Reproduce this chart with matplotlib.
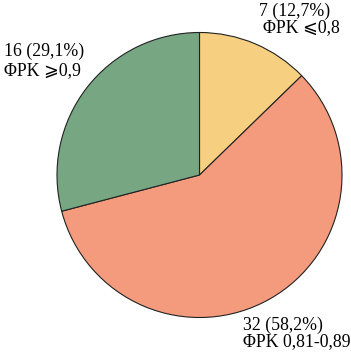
import matplotlib
matplotlib.use("Agg")
import matplotlib.pyplot as plt

categories = ["ΦPK ⩽0,8", "ΦPK 0,81-0,89", "ΦPK ⩾0,9"]
counts = [7, 32, 16]
percents = ["12,7%", "58,2%", "29,1%"]
colors = ["#F6CF80", "#F39B7C", "#77A683"]

W, H = 351, 364
fig = plt.figure(figsize=(W / 100, H / 100), dpi=100)
# pie: center (199.5, 175) px, radius 142.5 px
r = 142.5
cx, cy = 199.5, 175
ax = fig.add_axes([(cx - r) / W, 1 - (cy + r) / H, 2 * r / W, 2 * r / H])
ax.pie(counts, colors=colors, startangle=90, counterclock=False, radius=1,
       wedgeprops=dict(edgecolor="#222222", linewidth=0.8))
ax.set_xlim(-1.0, 1.0)
ax.set_ylim(-1.0, 1.0)
ax.set_aspect("equal")
ax.axis("off")

fam = ["Liberation Serif", "DejaVu Serif", "DejaVu Sans"]
fs = 12.8

def put(x, y, s):
    fig.text(x / W, 1 - y / H, s, ha="left", va="baseline", fontsize=fs, family=fam)

# label lines (positions in px)
put(259, 16, f"{counts[0]} ({percents[0]})")
put(263, 32, categories[0])
put(4, 56, f"{counts[2]} ({percents[2]})")
put(4, 75, categories[2])
put(243, 330, f"{counts[1]} ({percents[1]})")
put(243, 346, categories[1])

fig.savefig("out.png", dpi=100)
